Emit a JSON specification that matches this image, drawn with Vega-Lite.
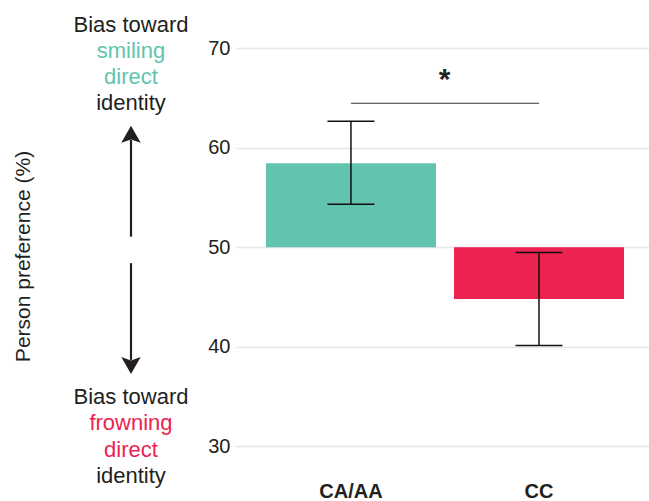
{
  "$schema": "https://vega.github.io/schema/vega-lite/v6.json",
  "padding": {"left": 12, "top": 0, "right": 0, "bottom": 0},
  "spacing": 0,
  "config": {"view": {"stroke": null}, "font": "Liberation Sans"},
  "resolve": {"scale": {"color": "independent", "shape": "independent"}},
  "datasets": {
    "groups": [
      {"group": "CA/AA", "mean": 58.45, "lo": 54.32, "hi": 62.66},
      {"group": "CC", "mean": 44.78, "lo": 40.12, "hi": 49.47}
    ],
    "sig": [
      {"from": "CA/AA", "to": "CC", "y": 64.47, "star": "*", "ty": 65.9}
    ],
    "arrows": [
      {"y": 51.06, "y2": 60.78},
      {"y": 48.39, "y2": 38.67}
    ],
    "heads": [
      {"y": 61.35, "dir": "up"},
      {"y": 38.1, "dir": "down"}
    ],
    "notes": [
      {"line": "Bias toward", "y": 71.66, "tone": "plain"},
      {"line": "smiling", "y": 69.02, "tone": "smiling"},
      {"line": "direct", "y": 66.41, "tone": "smiling"},
      {"line": "identity", "y": 63.79, "tone": "plain"},
      {"line": "Bias toward", "y": 34.25, "tone": "plain"},
      {"line": "frowning", "y": 31.58, "tone": "frowning"},
      {"line": "direct", "y": 28.92, "tone": "frowning"},
      {"line": "identity", "y": 26.26, "tone": "plain"}
    ]
  },
  "hconcat": [
    {
      "width": 160,
      "height": 471,
      "encoding": {
        "x": {"datum": 0.525, "type": "quantitative", "scale": {"domain": [0, 1]}, "axis": null},
        "y": {
          "field": "y",
          "type": "quantitative",
          "scale": {"domain": [27.5, 74.85], "zero": false, "nice": false},
          "axis": {
            "title": "Person preference (%)",
            "labels": false,
            "ticks": false,
            "domain": false,
            "grid": false,
            "titleFontSize": 21,
            "titleFontWeight": "normal",
            "titleColor": "#231f20",
            "titlePadding": 14,
            "titleY": 256
          }
        }
      },
      "layer": [
        {
          "data": {"name": "arrows"},
          "mark": {"type": "rule", "strokeWidth": 2.2, "color": "#231f20"},
          "encoding": {"y2": {"field": "y2"}}
        },
        {
          "data": {"name": "heads"},
          "mark": {"type": "point", "filled": true, "size": 289, "opacity": 1, "color": "#231f20"},
          "encoding": {
            "shape": {
              "field": "dir",
              "type": "nominal",
              "scale": {"domain": ["up", "down"], "range": ["M0,-1L1.14,1L0,0.6L-1.14,1Z", "M0,1L1.14,-1L0,-0.6L-1.14,-1Z"]},
              "legend": null
            }
          }
        },
        {
          "data": {"name": "notes"},
          "mark": {"type": "text", "fontSize": 22, "baseline": "alphabetic", "align": "center"},
          "encoding": {
            "text": {"field": "line"},
            "color": {
              "field": "tone",
              "type": "nominal",
              "scale": {"domain": ["plain", "smiling", "frowning"], "range": ["#231f20", "#62C4AF", "#EC2251"]},
              "legend": null
            }
          }
        }
      ]
    },
    {
      "width": 413,
      "height": 471,
      "data": {"name": "groups"},
      "encoding": {
        "x": {
          "field": "group",
          "type": "nominal",
          "sort": null,
          "scale": {"paddingInner": 0.0957, "paddingOuter": 0.146, "align": 0.545},
          "axis": {
            "title": null,
            "labelAngle": 0,
            "ticks": false,
            "domain": false,
            "labelFontSize": 20,
            "labelFontWeight": "bold",
            "labelColor": "#231f20",
            "labelPadding": 10
          }
        }
      },
      "layer": [
        {
          "mark": {"type": "bar"},
          "encoding": {
            "y": {
              "field": "mean",
              "type": "quantitative",
              "scale": {"domain": [27.5, 74.85], "zero": false, "nice": false},
              "axis": {
                "title": null,
                "values": [30, 40, 50, 60, 70],
                "grid": true,
                "gridColor": "#e6e6e6",
                "gridWidth": 1.5,
                "ticks": false,
                "domain": false,
                "labelFontSize": 20,
                "labelColor": "#231f20",
                "labelPadding": 6
              }
            },
            "y2": {"datum": 50},
            "color": {
              "field": "group",
              "type": "nominal",
              "scale": {"domain": ["CA/AA", "CC"], "range": ["#62C4AF", "#EC2251"]},
              "legend": null
            }
          }
        },
        {
          "mark": {"type": "rule", "color": "#111111", "strokeWidth": 1.5},
          "encoding": {"y": {"field": "lo", "type": "quantitative"}, "y2": {"field": "hi"}}
        },
        {
          "mark": {"type": "tick", "color": "#111111", "thickness": 1.5, "size": 47, "opacity": 1},
          "encoding": {"y": {"field": "lo", "type": "quantitative"}}
        },
        {
          "mark": {"type": "tick", "color": "#111111", "thickness": 1.5, "size": 47, "opacity": 1},
          "encoding": {"y": {"field": "hi", "type": "quantitative"}}
        },
        {
          "data": {"name": "sig"},
          "mark": {"type": "rule", "color": "#333333", "strokeWidth": 1.2},
          "encoding": {
            "x": {"field": "from", "type": "nominal"},
            "x2": {"field": "to"},
            "y": {"field": "y", "type": "quantitative"}
          }
        },
        {
          "data": {"name": "sig"},
          "mark": {"type": "text", "fontSize": 30, "fontWeight": "bold", "baseline": "alphabetic", "align": "center", "color": "#231f20"},
          "encoding": {
            "x": {"field": "from", "type": "nominal", "bandPosition": 1.05},
            "y": {"field": "ty", "type": "quantitative"},
            "text": {"field": "star"}
          }
        }
      ]
    }
  ]
}
